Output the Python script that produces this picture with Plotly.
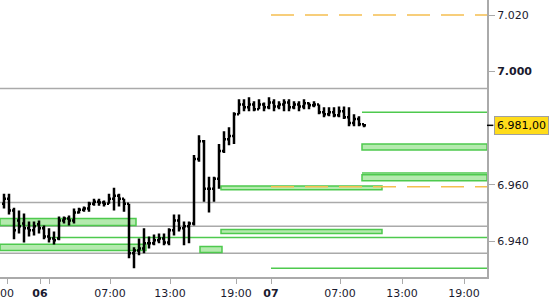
import plotly.graph_objects as go

# ---- OHLC bars (30-min bars, consecutive bar numbers) ----
open_ = [6953.3, 6955.1, 6950.9, 6947.4, 6946.3, 6944.6, 6943.9, 6946.0, 6944.6, 6941.7,
         6941.0, 6941.0, 6947.4, 6948.1, 6947.4, 6950.2, 6951.2, 6951.6, 6953.3, 6954.0,
         6953.7, 6953.3, 6955.1, 6956.1, 6955.1, 6953.3, 6935.8, 6936.8, 6937.5, 6939.3,
         6939.3, 6940.4, 6941.0, 6939.6, 6943.9, 6947.4, 6944.6, 6945.3, 6946.3, 6969.1,
         6975.4, 6958.6, 6958.6, 6962.1, 6971.9, 6976.1, 6977.2, 6984.9, 6988.4, 6987.4,
         6988.4, 6986.7, 6988.4, 6987.4, 6989.1, 6987.7, 6988.4, 6989.1, 6987.4, 6988.4,
         6987.7, 6988.8, 6988.1, 6988.4, 6985.6, 6984.9, 6985.6, 6984.6, 6986.0, 6983.9,
         6981.8, 6983.2, 6981.4]
high = [6956.8, 6956.8, 6951.9, 6950.9, 6949.8, 6947.0, 6947.0, 6947.4, 6945.6, 6944.6,
        6943.5, 6948.8, 6948.8, 6949.1, 6951.6, 6951.9, 6952.3, 6954.0, 6955.1, 6955.1,
        6954.4, 6956.8, 6958.9, 6956.8, 6955.1, 6953.3, 6937.9, 6941.0, 6944.6, 6941.7,
        6942.4, 6942.8, 6942.8, 6944.6, 6949.5, 6949.5, 6947.0, 6947.0, 6970.5, 6977.5,
        6975.8, 6962.8, 6962.8, 6974.4, 6978.9, 6980.3, 6985.6, 6990.2, 6990.2, 6990.9,
        6989.5, 6990.2, 6989.1, 6990.9, 6990.2, 6989.5, 6990.2, 6990.2, 6989.5, 6989.5,
        6990.2, 6989.1, 6989.5, 6988.4, 6987.4, 6987.4, 6987.4, 6987.7, 6987.7, 6987.4,
        6984.9, 6984.2, 6981.4]
low = [6951.6, 6949.5, 6940.7, 6942.8, 6939.6, 6941.7, 6942.1, 6942.8, 6940.7, 6939.6,
       6938.9, 6940.4, 6946.3, 6945.6, 6946.3, 6949.8, 6950.5, 6950.5, 6952.6, 6952.6,
       6952.3, 6953.3, 6950.9, 6952.3, 6950.5, 6934.0, 6930.5, 6935.1, 6935.8, 6937.5,
       6938.6, 6939.3, 6938.6, 6938.6, 6942.1, 6943.5, 6938.6, 6939.3, 6945.6, 6968.1,
       6954.0, 6950.2, 6954.0, 6958.6, 6971.2, 6974.0, 6974.4, 6984.9, 6986.0, 6986.0,
       6986.0, 6986.7, 6986.0, 6986.7, 6986.0, 6986.7, 6986.0, 6986.0, 6986.7, 6986.0,
       6986.7, 6986.7, 6987.4, 6984.9, 6983.9, 6984.2, 6983.9, 6983.9, 6983.2, 6980.7,
       6980.7, 6980.7, 6980.3]
close = [6955.1, 6950.9, 6943.9, 6945.3, 6944.6, 6943.9, 6945.3, 6944.6, 6941.7, 6941.0,
         6940.4, 6947.4, 6948.1, 6947.4, 6950.2, 6951.2, 6951.6, 6953.3, 6954.0, 6953.7,
         6953.3, 6955.1, 6956.1, 6955.1, 6953.3, 6935.8, 6936.8, 6937.5, 6939.3, 6939.3,
         6940.4, 6941.0, 6939.6, 6943.9, 6947.4, 6944.6, 6945.3, 6946.3, 6969.1, 6975.4,
         6958.6, 6958.6, 6962.1, 6971.9, 6976.1, 6977.2, 6984.9, 6988.4, 6987.4, 6988.4,
         6986.7, 6988.4, 6987.4, 6989.1, 6987.7, 6988.4, 6989.1, 6987.4, 6988.4, 6987.7,
         6988.8, 6988.1, 6988.4, 6985.6, 6984.9, 6985.6, 6984.6, 6986.0, 6983.9, 6981.8,
         6983.2, 6981.4, 6981.0]
bar_no = list(range(len(close)))

last_price = 6981.0
last_price_label = "6.981,00"

# ---- x axis (bar-number positions of the time labels) ----
x_tick_pos = [0.6, 7.2, 9.0, 21.2, 33.2, 46.4, 53.4, 67.2, 79.6, 92.0]
x_tick_text = ["00", "<b>06</b>", "", "07:00", "13:00", "19:00", "<b>07</b>", "07:00", "13:00", "19:00"]
x_range = [-0.8, 96.6]

# ---- y axis ----
y_tick_pos = [6940, 6960, 7000, 7020]
y_tick_text = ["6.940", "6.960", "<b>7.000</b>", "7.020"]
y_range = [6927.4, 7025.3]

# ---- levels ----
grey_levels = [6994.0, 6953.7, 6945.3, 6935.8]
green_line_levels = [6985.6, 6964.2, 6941.4, 6930.5]
green_line_start = [71.6, 71.6, 9.0, 53.4]
zone_low = [6972.3, 6961.4, 6958.2, 6942.8, 6936.1, 6945.6, 6936.8]
zone_high = [6974.4, 6963.5, 6959.6, 6944.2, 6938.2, 6948.1, 6939.0]
zone_start = [71.6, 71.6, 43.4, 43.4, 39.2, -0.8, -0.8]
zone_end = [96.6, 96.6, 75.6, 75.6, 43.6, 26.4, 28.4]
orange_levels = [7020.0, 6959.3]
orange_start = [53.4, 53.4]

GREY = "#aaaaaa"
GREEN = "#4ec94e"
ZONE_FILL = "#b4eaae"
ORANGE = "#f5bf50"
FONT = "DejaVu Sans"

fig = go.Figure()
fig.add_trace(go.Ohlc(
    x=bar_no, open=open_, high=high, low=low, close=close,
    increasing=dict(line=dict(color="black", width=2.5)),
    decreasing=dict(line=dict(color="black", width=2.5)),
    tickwidth=0.4, hoverinfo="skip", showlegend=False,
))

shapes = []
for lv in grey_levels:
    shapes.append(dict(type="line", xref="x", yref="y", x0=x_range[0], x1=x_range[1], y0=lv, y1=lv,
                       line=dict(color=GREY, width=1.5), layer="below"))
for lv, s in zip(green_line_levels, green_line_start):
    shapes.append(dict(type="line", xref="x", yref="y", x0=s, x1=x_range[1], y0=lv, y1=lv,
                       line=dict(color=GREEN, width=1.5), layer="below"))
for lo, hi, s, e in zip(zone_low, zone_high, zone_start, zone_end):
    shapes.append(dict(type="rect", xref="x", yref="y", x0=s, x1=e, y0=lo, y1=hi,
                       fillcolor=ZONE_FILL, line=dict(color=GREEN, width=1.5), layer="below"))
for lv, s in zip(orange_levels, orange_start):
    shapes.append(dict(type="line", xref="x", yref="y", x0=s, x1=x_range[1], y0=lv, y1=lv,
                       line=dict(color=ORANGE, width=1.5, dash="23px,11px"), layer="below"))
# small black tick at last price on the axis
shapes.append(dict(type="line", xref="paper", yref="y", x0=1.0, x1=1.013, y0=last_price, y1=last_price,
                   line=dict(color="black", width=1.5)))

fig.update_layout(
    width=550, height=300,
    margin=dict(l=0, r=63, t=0, b=21),
    paper_bgcolor="white", plot_bgcolor="white",
    font=dict(family=FONT, size=11, color="#1a1a2e"),
    shapes=shapes,
    showlegend=False,
    xaxis=dict(range=x_range, showgrid=False, zeroline=False, showline=True, linecolor=GREY, linewidth=2,
               ticks="outside", ticklen=5, tickcolor=GREY, tickwidth=1,
               tickmode="array", tickvals=x_tick_pos, ticktext=x_tick_text,
               rangeslider=dict(visible=False), fixedrange=True),
    yaxis=dict(range=y_range, side="right", showgrid=False, zeroline=False, showline=True, linecolor=GREY,
               linewidth=2, ticks="outside", ticklen=6, tickcolor=GREY, tickwidth=1,
               tickmode="array", tickvals=y_tick_pos, ticktext=y_tick_text, fixedrange=True),
    annotations=[dict(xref="paper", yref="y", x=1.0, y=last_price, xanchor="left", yanchor="middle",
                      xshift=7, text=last_price_label, showarrow=False,
                      font=dict(family=FONT, size=11, color="black"),
                      bgcolor="#ffdc1a", bordercolor="#a0a0a0", borderwidth=1, borderpad=2)],
)

fig.write_html("out.html", config=dict(displayModeBar=False, staticPlot=True))
